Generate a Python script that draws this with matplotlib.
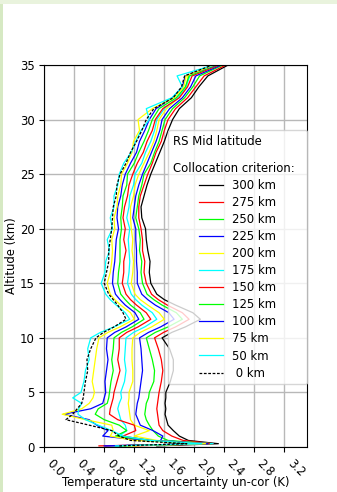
import matplotlib.pyplot as plt
from matplotlib.patches import Rectangle

# Высоты (км), общие для всех профилей
alt_km = [0.1, 0.3, 0.6, 1.0, 1.5, 2.0, 2.5, 3.0, 3.5, 4.0, 4.5,
          5.0, 6.0, 7.0, 8.0, 9.0, 10.0, 10.5, 11.0, 11.7, 12.3, 13.0, 13.5, 14.0,
          15.0, 16.0, 17.0, 18.0, 19.0, 20.0, 21.0, 22.0, 23.0, 24.0, 25.0,
          26.0, 27.0, 28.0, 29.0, 30.0, 31.0, 32.0, 33.0, 34.0, 35.0]

# Неопределённость температуры (K) для каждого критерия коллокации
u_300 = [1.50, 2.32, 1.92, 1.80, 1.72, 1.65, 1.63, 1.61, 1.62, 1.61, 1.62,
         1.62, 1.68, 1.72, 1.72, 1.67, 1.57, 1.70, 1.88, 2.08, 1.98, 1.75, 1.60, 1.50,
         1.42, 1.40, 1.41, 1.38, 1.36, 1.35, 1.30, 1.29, 1.33, 1.37, 1.42,
         1.48, 1.54, 1.60, 1.65, 1.71, 1.80, 1.96, 2.06, 2.18, 2.45]
u_275 = [1.20, 2.25, 1.85, 1.70, 1.58, 1.53, 1.52, 1.51, 1.50, 1.51, 1.52,
         1.53, 1.56, 1.58, 1.56, 1.52, 1.47, 1.59, 1.75, 1.93, 1.84, 1.64, 1.52, 1.43,
         1.36, 1.33, 1.34, 1.31, 1.31, 1.29, 1.26, 1.26, 1.28, 1.33, 1.38,
         1.44, 1.49, 1.56, 1.60, 1.65, 1.75, 1.91, 2.02, 2.13, 2.42]
u_250 = [1.00, 2.22, 1.65, 1.52, 1.45, 1.40, 1.36, 1.34, 1.35, 1.36, 1.39,
         1.40, 1.46, 1.47, 1.44, 1.40, 1.36, 1.48, 1.65, 1.84, 1.76, 1.57, 1.46, 1.37,
         1.31, 1.29, 1.30, 1.27, 1.28, 1.26, 1.22, 1.24, 1.26, 1.30, 1.33,
         1.42, 1.47, 1.53, 1.57, 1.61, 1.71, 1.87, 1.98, 2.07, 2.38]
u_225 = [0.82, 2.15, 1.55, 1.58, 1.45, 1.28, 1.25, 1.22, 1.23, 1.24, 1.26,
         1.27, 1.29, 1.31, 1.30, 1.29, 1.27, 1.39, 1.55, 1.73, 1.66, 1.48, 1.38, 1.30,
         1.24, 1.24, 1.23, 1.23, 1.22, 1.22, 1.18, 1.20, 1.22, 1.26, 1.31,
         1.37, 1.43, 1.49, 1.54, 1.57, 1.67, 1.84, 1.95, 2.02, 2.36]
u_200 = [1.12, 2.10, 1.50, 1.20, 1.40, 1.20, 1.15, 1.14, 1.13, 1.12, 1.13,
         1.13, 1.18, 1.18, 1.17, 1.17, 1.18, 1.28, 1.43, 1.60, 1.53, 1.38, 1.28, 1.21,
         1.16, 1.18, 1.19, 1.17, 1.18, 1.16, 1.15, 1.15, 1.19, 1.21, 1.26,
         1.33, 1.40, 1.46, 1.50, 1.53, 1.63, 1.79, 1.90, 1.91, 2.28]
u_175 = [0.90, 2.25, 1.45, 1.00, 1.10, 1.08, 1.02, 1.00, 0.98, 1.00, 1.03,
         1.02, 1.07, 1.09, 1.07, 1.08, 1.09, 1.19, 1.34, 1.50, 1.44, 1.30, 1.22, 1.16,
         1.11, 1.13, 1.14, 1.13, 1.12, 1.14, 1.10, 1.13, 1.14, 1.19, 1.21,
         1.30, 1.35, 1.42, 1.47, 1.50, 1.60, 1.78, 1.89, 1.94, 2.31]
u_150 = [0.73, 2.20, 1.40, 1.05, 1.22, 1.20, 0.98, 0.87, 0.88, 0.90, 0.92,
         0.93, 0.97, 1.01, 0.98, 1.00, 1.00, 1.10, 1.25, 1.42, 1.36, 1.23, 1.15, 1.09,
         1.04, 1.06, 1.06, 1.09, 1.06, 1.08, 1.05, 1.07, 1.11, 1.13, 1.18,
         1.24, 1.32, 1.37, 1.44, 1.48, 1.58, 1.80, 1.91, 1.97, 2.33]
u_125 = [0.95, 2.12, 1.35, 0.95, 1.10, 1.00, 0.80, 0.68, 0.72, 0.84, 0.86,
         0.87, 0.89, 0.92, 0.90, 0.92, 0.93, 1.03, 1.17, 1.33, 1.28, 1.15, 1.08, 1.02,
         0.98, 0.99, 1.01, 1.01, 1.01, 1.03, 1.02, 1.04, 1.05, 1.10, 1.11,
         1.20, 1.26, 1.33, 1.39, 1.44, 1.53, 1.76, 1.88, 1.93, 2.30]
u_100 = [0.80, 2.18, 1.30, 0.78, 0.85, 0.70, 0.60, 0.26, 0.62, 0.78, 0.80,
         0.82, 0.81, 0.83, 0.85, 0.83, 0.84, 0.94, 1.09, 1.26, 1.21, 1.08, 1.01, 0.95,
         0.91, 0.92, 0.94, 0.95, 0.96, 0.99, 0.97, 0.98, 1.02, 1.04, 1.08,
         1.15, 1.23, 1.27, 1.34, 1.40, 1.49, 1.71, 1.84, 1.88, 2.29]
u_75 = [1.05, 2.15, 1.20, 0.88, 0.92, 0.90, 0.55, 0.24, 0.50, 0.60, 0.65,
        0.67, 0.64, 0.66, 0.68, 0.70, 0.73, 0.85, 1.01, 1.20, 1.15, 1.02, 0.94, 0.88,
        0.84, 0.88, 0.90, 0.91, 0.90, 0.94, 0.93, 0.97, 0.98, 1.02, 1.03,
        1.11, 1.17, 1.19, 1.27, 1.25, 1.44, 1.73, 1.86, 1.89, 2.27]
u_50 = [0.95, 2.10, 1.40, 1.05, 0.90, 0.72, 0.55, 0.45, 0.46, 0.50, 0.38,
        0.49, 0.53, 0.55, 0.60, 0.58, 0.62, 0.75, 0.93, 1.14, 1.08, 0.96, 0.88, 0.82,
        0.76, 0.81, 0.82, 0.87, 0.84, 0.91, 0.88, 0.93, 0.93, 0.98, 1.00,
        1.06, 1.16, 1.22, 1.29, 1.40, 1.36, 1.70, 1.84, 1.77, 2.26]
u_0 = [1.00, 1.90, 1.15, 1.00, 0.90, 0.60, 0.29, 0.38, 0.44, 0.50, 0.52,
       0.53, 0.55, 0.58, 0.57, 0.62, 0.69, 0.79, 0.93, 1.09, 1.05, 0.98, 0.92, 0.86,
       0.80, 0.83, 0.86, 0.86, 0.88, 0.90, 0.91, 0.92, 0.96, 0.97, 1.01,
       1.09, 1.15, 1.23, 1.30, 1.36, 1.46, 1.72, 1.83, 1.87, 2.24]

labels = ['300 km', '275 km', '250 km', '225 km', '200 km', '175 km',
          '150 km', '125 km', '100 km', '75 km', '50 km', ' 0 km']
profiles = [u_300, u_275, u_250, u_225, u_200, u_175,
            u_150, u_125, u_100, u_75, u_50, u_0]
colors = ['k', 'r', 'lime', 'b', 'yellow', 'cyan',
          'r', 'lime', 'b', 'yellow', 'cyan', 'k']

x_ticks = [0.0, 0.4, 0.8, 1.2, 1.6, 2.0, 2.4, 2.8, 3.2]
y_ticks = [0, 5, 10, 15, 20, 25, 30, 35]

fs = 8.4  # размер шрифта

fig = plt.figure(figsize=(3.37, 4.92), dpi=100)
# зелёные полосы по краю картинки
fig.add_artist(Rectangle((0, 0), 0.008, 1, transform=fig.transFigure,
                         color='#d6e9c3', lw=0))
fig.add_artist(Rectangle((0, 0.992), 1, 0.008, transform=fig.transFigure,
                         color='#e9f3dd', lw=0))

ax = fig.add_axes([0.131, 0.0915, 0.780, 0.7764])
for u, lab, c in zip(profiles, labels, colors):
    if lab.strip() == '0 km':
        ax.plot(u, alt_km, color=c, lw=0.9, linestyle=(0, (2.2, 1.3)), label=lab)
    else:
        ax.plot(u, alt_km, color=c, lw=0.9, label=lab)

ax.set_xlim(0, 3.5)
ax.set_ylim(0, 35)
ax.set_xticks(x_ticks)
ax.set_yticks(y_ticks)
ax.set_xticklabels(['%.1f' % t for t in x_ticks], rotation=-45, ha='left')
ax.tick_params(labelsize=fs)
ax.grid(color='#b8b8b8', linewidth=1.0)
ax.set_axisbelow(True)
ax.set_xlabel('Temperature std uncertainty un-cor (K)', fontsize=fs, labelpad=-2.5)
ax.set_ylabel('Altitude (km)', fontsize=fs, labelpad=1)

leg = ax.legend(title='RS Mid latitude\n\nCollocation criterion:  ', fontsize=fs,
                title_fontsize=fs, loc='upper right', bbox_to_anchor=(1.0, 0.83),
                borderaxespad=0, labelspacing=0.35)
leg.get_title().set_linespacing(1.05)

plt.savefig('out.png', dpi=100)
